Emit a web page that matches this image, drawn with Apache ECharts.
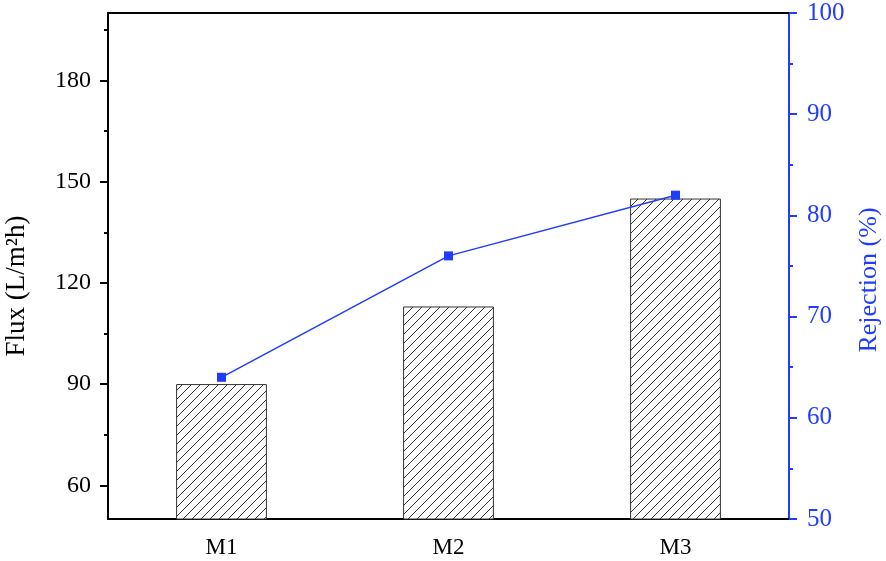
<!DOCTYPE html>
<html>
<head>
<meta charset="utf-8">
<script src="https://cdn.jsdelivr.net/npm/echarts@6/dist/echarts.min.js"></script>
<style>html,body{margin:0;padding:0;background:#fff;}#c{width:886px;height:561px;}</style>
</head>
<body>
<div id="c"></div>
<script>
const categories = ['M1', 'M2', 'M3'];
const fluxValues = [90, 113, 145];
const rejectionValues = [64, 76, 82];
const fluxMajorTicks = [60, 90, 120, 150, 180];
const fluxMinorTicks = [75, 105, 135, 165, 195];

const BLUE = '#1f3cff';
const FONT = 'Liberation Serif';

function hatch() {
  const s = 9;
  const cv = document.createElement('canvas');
  cv.width = s; cv.height = s;
  const ctx = cv.getContext('2d');
  ctx.fillStyle = '#fff';
  ctx.fillRect(0, 0, s, s);
  ctx.strokeStyle = '#333';
  ctx.lineWidth = 1;
  ctx.beginPath();
  ctx.moveTo(-1, s + 1); ctx.lineTo(s + 1, -1);
  ctx.moveTo(-1, 1); ctx.lineTo(1, -1);
  ctx.moveTo(s - 1, s + 1); ctx.lineTo(s + 1, s - 1);
  ctx.stroke();
  return cv;
}

const chart = echarts.init(document.getElementById('c'));
chart.setOption({
  animation: false,
  grid: { left: 108, right: 97, top: 13, bottom: 42, containLabel: false, outerBoundsMode: 'none' },
  xAxis: [
    {
      type: 'category', position: 'bottom', data: categories,
      axisLine: { lineStyle: { color: '#000', width: 2 } },
      axisTick: { alignWithLabel: true, length: 8, lineStyle: { color: '#000', width: 2 } },
      axisLabel: { color: '#000', fontFamily: FONT, fontSize: 23, margin: 17 }
    },
    {
      type: 'category', position: 'bottom', data: categories,
      axisLine: { show: false },
      axisTick: { alignWithLabel: false, length: 4, lineStyle: { color: '#000', width: 2 } },
      axisLabel: { show: false }
    },
    {
      type: 'category', position: 'top', data: categories,
      axisLine: { lineStyle: { color: '#000', width: 2 } },
      axisTick: { alignWithLabel: true, inside: true, length: 9, lineStyle: { color: '#000', width: 2 } },
      axisLabel: { show: false }
    }
  ],
  yAxis: [
    {
      type: 'value', position: 'left', min: 50, max: 200,
      name: 'Flux (L/m²h)', nameLocation: 'middle', nameGap: 78, nameRotate: 90,
      nameTextStyle: { color: '#000', fontFamily: FONT, fontSize: 27, padding: [0, 40, 0, 0] },
      splitLine: { show: false },
      axisLine: { show: true, lineStyle: { color: '#000', width: 2 } },
      axisTick: { show: true, customValues: fluxMajorTicks, length: 8, lineStyle: { color: '#000', width: 2 } },
      axisLabel: { customValues: fluxMajorTicks, color: '#000', fontFamily: FONT, fontSize: 24, margin: 17 }
    },
    {
      type: 'value', position: 'right', min: 50, max: 100, interval: 10,
      name: 'Rejection (%)', nameLocation: 'middle', nameGap: 67, nameRotate: 90,
      nameTextStyle: { color: BLUE, fontFamily: FONT, fontSize: 26, padding: [0, 28, 0, 0] },
      splitLine: { show: false },
      axisLine: { show: true, lineStyle: { color: BLUE, width: 2 } },
      axisTick: { show: true, length: 8, lineStyle: { color: BLUE, width: 2 } },
      minorTick: { show: true, splitNumber: 2, length: 4, lineStyle: { color: BLUE, width: 2 } },
      axisLabel: { color: BLUE, fontFamily: FONT, fontSize: 25, margin: 18 }
    },
    {
      type: 'value', position: 'left', min: 50, max: 200,
      splitLine: { show: false },
      axisLine: { show: false },
      axisTick: { show: true, customValues: fluxMinorTicks, length: 4, lineStyle: { color: '#000', width: 2 } },
      axisLabel: { show: false }
    }
  ],
  series: [
    {
      type: 'bar', xAxisIndex: 0, yAxisIndex: 0, data: fluxValues,
      barWidth: '40%',
      itemStyle: { color: { image: hatch(), repeat: 'repeat' }, borderColor: '#333', borderWidth: 1 }
    },
    {
      type: 'line', xAxisIndex: 0, yAxisIndex: 1, data: rejectionValues,
      symbol: 'rect', symbolSize: 9,
      lineStyle: { color: BLUE, width: 1.5 },
      itemStyle: { color: BLUE }
    }
  ]
});
</script>
</body>
</html>
